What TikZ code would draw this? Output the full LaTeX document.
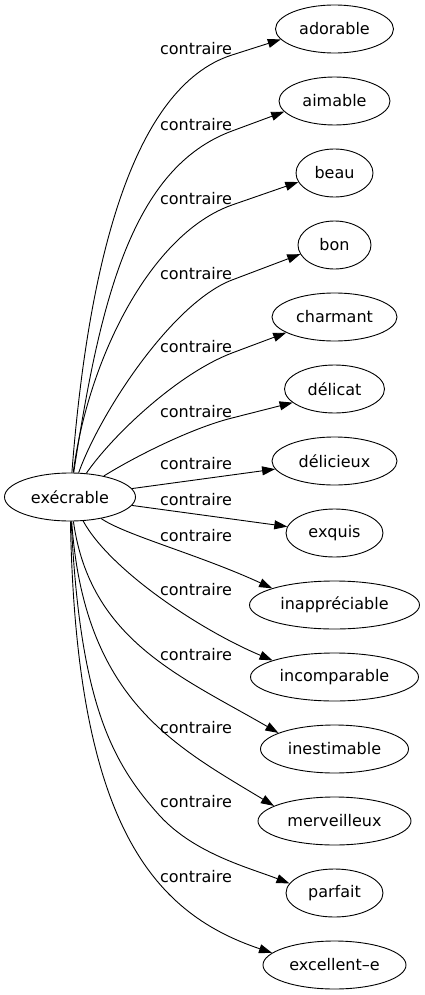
\documentclass[tikz,border=0pt]{standalone}
\usepackage{fontspec}
\setmainfont{DejaVu Sans}
\usetikzlibrary{arrows.meta,shapes.geometric}
\begin{document}
\begin{tikzpicture}[x=1pt,y=-1pt,
  word/.style={ellipse, draw, line width=0.9pt, inner sep=0pt, minimum height=48pt, font=\fontsize{16}{19}\selectfont},
  lbl/.style={inner sep=0pt, font=\fontsize{16}{19}\selectfont},
  edge/.style={line width=0.9pt, -{Triangle[length=13pt,width=9pt]}}]
\useasboundingbox (0,0) rectangle (425,995);
% nodes
\node[word, minimum width=131pt] (exe) at (70,497) {exécrable};
\node[word, minimum width=118pt] (n1) at (334.5,29) {adorable};
\node[word, minimum width=111pt] (n2) at (334.5,101) {aimable};
\node[word, minimum width=77pt] (n3) at (334.5,173) {beau};
\node[word, minimum width=73pt] (n4) at (334.5,245) {bon};
\node[word, minimum width=125pt] (n5) at (334.5,317) {charmant};
\node[word, minimum width=100pt] (n6) at (334.5,389) {délicat};
\node[word, minimum width=125pt] (n7) at (334.5,461) {délicieux};
\node[word, minimum width=97pt] (n8) at (334.5,533) {exquis};
\node[word, minimum width=170pt] (n9) at (334.5,605) {inappréciable};
\node[word, minimum width=168pt] (n10) at (334.5,677) {incomparable};
\node[word, minimum width=148pt] (n11) at (334.5,749) {inestimable};
\node[word, minimum width=153pt] (n12) at (334.5,821) {merveilleux};
\node[word, minimum width=97pt] (n13) at (334.5,893) {parfait};
\node[word, minimum width=143pt] (n14) at (334.5,965) {excellent–e};
% labels
\node[lbl] (l1) at (196,48.3) {contraire};
\node[lbl] (l2) at (196,124.3) {contraire};
\node[lbl] (l3) at (196,198.3) {contraire};
\node[lbl] (l4) at (196,273.3) {contraire};
\node[lbl] (l5) at (196,346.6) {contraire};
\node[lbl] (l6) at (196,411.6) {contraire};
\node[lbl] (l7) at (196,463.8) {contraire};
\node[lbl] (l8) at (196,500) {contraire};
\node[lbl] (l9) at (196,535.5) {contraire};
\node[lbl] (l10) at (196,590) {contraire};
\node[lbl] (l11) at (196,655) {contraire};
\node[lbl] (l12) at (196,727.6) {contraire};
\node[lbl] (l13) at (196,801.6) {contraire};
\node[lbl] (l14) at (196,876.6) {contraire};
% edges
\draw[edge] (exe) .. controls (88,264) and (132,87) .. (232,55) -- (n1.191);
\draw[edge] (exe) .. controls (100,300) and (132,168) .. (232,131) -- (n2.192);
\draw[edge] (exe) .. controls (88,360) and (150,234) .. (232,205) -- (n3.194);
\draw[edge] (exe) .. controls (100,413) and (172,303) .. (232,280) -- (n4.195);
\draw[edge] (exe) .. controls (112,436) and (177,374) .. (232,353) -- (n5.198);
\draw[edge] (exe) .. controls (136,456) and (192,428) .. (232,418) -- (n6.198);
\draw[edge] (exe) -- (n7);
\draw[edge] (exe) -- (n8);
\draw[edge] (exe) .. controls (125,535) and (200,555) .. (n9.165);
\draw[edge] (exe) .. controls (110,570) and (200,630) .. (n10.165);
\draw[edge] (exe) .. controls (90,640) and (180,676) .. (n11.164);
\draw[edge] (exe) .. controls (84,700) and (175,746) .. (n12.166);
\draw[edge] (exe) .. controls (80,700) and (110,761) .. (160,816) .. controls (195,854) and (250,868) .. (n13.168);
\draw[edge] (exe) .. controls (76,820) and (150,912) .. (n14.169);
\end{tikzpicture}
\end{document}
